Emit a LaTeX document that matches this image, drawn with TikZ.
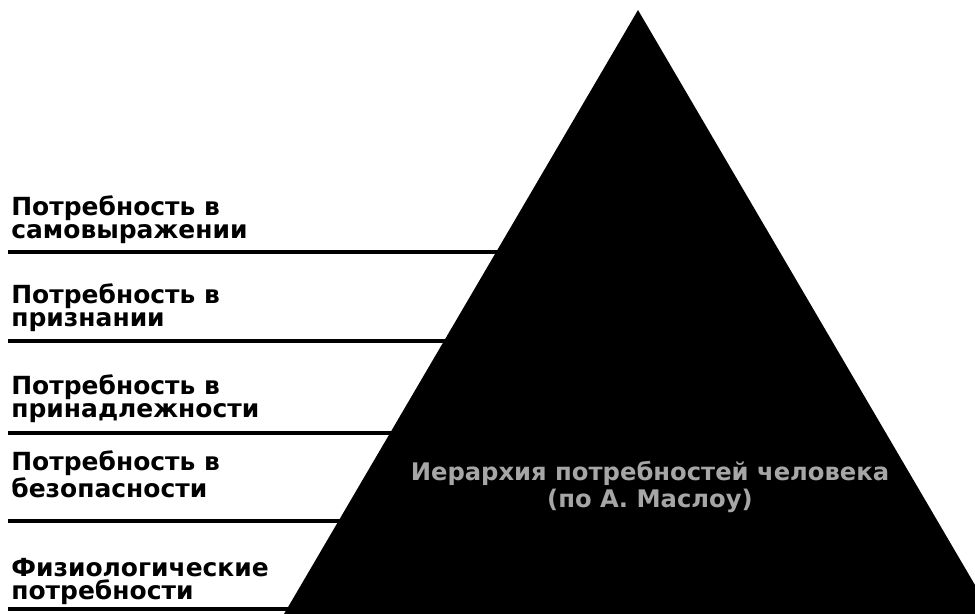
\documentclass[tikz,border=0pt]{standalone}
\usepackage{fontspec}
\setmainfont{DejaVu Sans}
\usetikzlibrary{positioning}

\begin{document}
\begin{tikzpicture}[x=0.02cm, y=-0.02cm,
				lbl/.style={anchor=base west, align=left, inner sep=0pt, font=\bfseries\fontsize{14.2}{12.8}\selectfont},
				inlbl/.style={align=center, inner sep=0pt, text=gray!70, font=\bfseries\fontsize{13.8}{15.3}\selectfont},
				sep/.style={line width=2.1pt}]
				\useasboundingbox (0,0) rectangle (975,613);
				\clip (0,0) rectangle (975,613);
				\coordinate (apex) at (638,10);
				\coordinate (bl) at (284,614);
				\coordinate (br) at (992,614);
				\fill (apex) -- (bl) -- (br) -- cycle;
				\node[lbl] (selfexp) at (11,238) {Потребность в\\самовыражении};
				\node[lbl] (esteem)  at (11,326) {Потребность в\\признании};
				\node[lbl] (belong)  at (11,417) {Потребность в\\принадлежности};
				\node[lbl] (safety)  at (11,497) {Потребность в\\безопасности};
				\node[lbl] (physio)  at (11,599) {Физиологические\\потребности};
				\draw[sep] (8,252) -- (640,252);
				\draw[sep] (8,341) -- (640,341);
				\draw[sep] (8,433) -- (640,433);
				\draw[sep] (8,521) -- (640,521);
				\draw[sep] (8,609) -- (300,609);
				\node[inlbl] (title) at (650,487) {Иерархия потребностей человека\\(по А. Маслоу)};
			\end{tikzpicture}
\end{document}
